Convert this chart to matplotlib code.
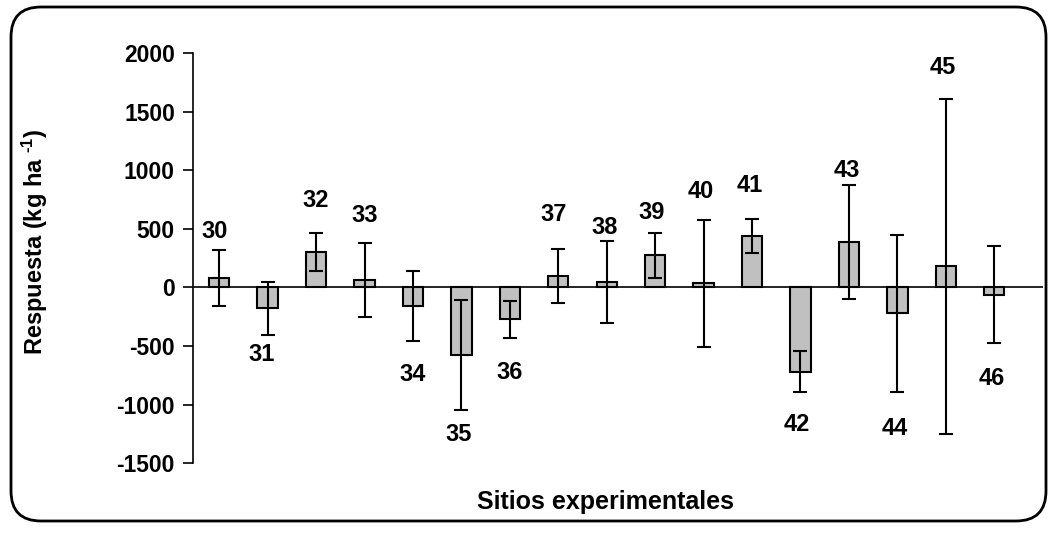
import matplotlib.pyplot as plt
from matplotlib.patches import FancyBboxPatch
from matplotlib.transforms import IdentityTransform

plt.rcParams['font.family'] = ['Liberation Sans', 'DejaVu Sans']
plt.rcParams['mathtext.fontset'] = 'custom'
plt.rcParams['mathtext.rm'] = 'Liberation Sans:bold'
plt.rcParams['mathtext.bf'] = 'Liberation Sans:bold'
plt.rcParams['mathtext.default'] = 'bf'
plt.rcParams['axes.unicode_minus'] = False

# Sitios y respuesta (kg/ha)
sitios = ['30', '31', '32', '33', '34', '35', '36', '37', '38',
          '39', '40', '41', '42', '43', '44', '45', '46']
respuesta = [77, -179, 304, 62, -159, -577, -273, 99, 48,
             276, 34, 435, -719, 386, -222, 179, -62]
error = [238, 224, 160, 315, 295, 470, 155, 230, 350,
         192, 545, 145, 178, 488, 667, 1430, 416]
# altura de cada etiqueta (en unidades del eje y)
label_y = [474, -577, 744, 617, -741, -1253, -724, 622, 511,
           636, 821, 872, -1173, 997, -1207, 1875, -776]
label_dx = [-0.1, -0.12, 0, 0, 0, -0.05, 0, -0.1, -0.05,
            -0.08, -0.05, -0.05, -0.08, -0.05, -0.06, -0.06, -0.06]

fig = plt.figure(figsize=(10.49, 5.36), dpi=100)
ax = fig.add_axes([0.184, 0.136, 0.810, 0.765])

x = list(range(len(sitios)))
ax.bar(x, respuesta, width=0.42, color='#C0C0C0', edgecolor='black',
       linewidth=1.5, zorder=2)
ax.errorbar(x, respuesta, yerr=error, fmt='none', ecolor='black',
            elinewidth=1.5, capsize=5, capthick=1.5, zorder=3)
ax.axhline(0, color='black', linewidth=1.2, zorder=1)

for i, s in enumerate(sitios):
    ax.text(x[i] + label_dx[i], label_y[i], s, ha='center', va='center',
            fontsize=17, fontweight='bold', clip_on=False)

ax.set_xlim(-0.54, 17.0)
ax.set_ylim(-1500, 2000)
ax.set_yticks([-1500, -1000, -500, 0, 500, 1000, 1500, 2000])
ax.set_xticks([])
for sp in ['top', 'right', 'bottom']:
    ax.spines[sp].set_visible(False)
ax.spines['left'].set_linewidth(1.2)
ax.tick_params(axis='y', direction='out', length=7, width=1.2, pad=6,
               labelsize=16.5)
for lbl in ax.get_yticklabels():
    lbl.set_fontweight('bold')

ax.set_ylabel(r'Respuesta (kg ha $^{\text{-1}}$)', fontsize=17,
              fontweight='bold')
ax.yaxis.set_label_coords(-0.168, 0.54)
fig.text(0.577, 0.063, 'Sitios experimentales', ha='center', va='center',
         fontsize=18, fontweight='bold')

frame = FancyBboxPatch((11, 15), 1035, 514,
                       boxstyle='round,pad=0,rounding_size=30',
                       transform=IdentityTransform(), facecolor='none',
                       edgecolor='black', linewidth=2)
fig.add_artist(frame)

fig.savefig('out.png', dpi=100)
